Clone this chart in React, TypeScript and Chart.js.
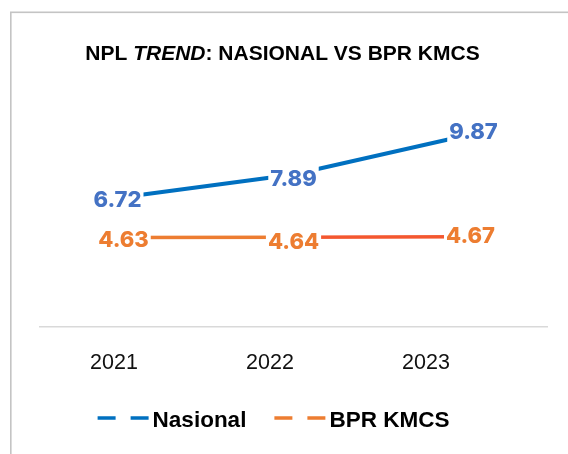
import React, { useEffect, useRef } from "react";
import { Chart, registerables } from "chart.js";

Chart.register(...registerables);

// ---- data ----
const categories = ["2021", "2022", "2023"];
const nasional = [6.72, 7.89, 9.87];
const bprKmcs = [4.63, 4.64, 4.67];
const seriesNames = ["Nasional", "BPR KMCS"];
const titleParts = [
  { text: "NPL ", italic: false },
  { text: "TREND", italic: true },
  { text: ": NASIONAL VS BPR KMCS", italic: false },
];
const yMin = 0;
const yMax = 12;

// ---- styles ----
const lineColors = ["#0070C0", "#ED7D31"];
const lastSegmentColors = ["#0070C0", "#F4572F"];
const labelColors = ["#4472C4", "#ED7D31"];
const labelDx = [
  [-7, 0, 11],
  [-1, 0, 8],
];
const labelDy = [
  [2, 3.5, -5],
  [1.5, 3.7, -1.7],
];
const tickShift = [-10.5, -23.5, -36.5];

const overlayPlugin = {
  id: "overlay",
  beforeDraw(chart: any) {
    const ctx = chart.ctx;
    ctx.save();
    ctx.strokeStyle = "#C4C4C4";
    ctx.lineWidth = 1.6;
    ctx.strokeRect(10.8, 12.3, 1200, 1200);
    ctx.restore();
  },
  afterDatasetsDraw(chart: any) {
    const ctx = chart.ctx;
    ctx.save();
    const fs = 22;
    ctx.font = `800 ${fs}px Inter`;
    ctx.textAlign = "center";
    ctx.textBaseline = "alphabetic";
    chart.data.datasets.forEach((ds: any, i: number) => {
      const meta = chart.getDatasetMeta(i);
      meta.data.forEach((el: any, j: number) => {
        const txt = Number(ds.data[j]).toFixed(2);
        const cx = el.x + labelDx[i][j];
        const cy = el.y + labelDy[i][j];
        const w = ctx.measureText(txt).width;
        const cap = fs * 0.727;
        ctx.fillStyle = "#ffffff";
        ctx.fillRect(cx - w / 2 - 2, cy - cap / 2 - 4, w + 4, cap + 8);
        ctx.fillStyle = labelColors[i];
        ctx.fillText(txt, cx, cy + cap / 2);
      });
    });
    ctx.restore();
  },
  afterDraw(chart: any) {
    const ctx = chart.ctx;
    ctx.save();
    // title
    const tfs = 21;
    const fonts = titleParts.map((p) =>
      p.italic ? `italic bold ${tfs}px "Liberation Sans"` : `bold ${tfs}px "Liberation Sans"`
    );
    let total = 0;
    const widths = titleParts.map((p, k) => {
      ctx.font = fonts[k];
      const w = ctx.measureText(p.text).width;
      total += w;
      return w;
    });
    let x = 282.5 - total / 2;
    ctx.fillStyle = "#000000";
    ctx.textAlign = "left";
    ctx.textBaseline = "alphabetic";
    titleParts.forEach((p, k) => {
      ctx.font = fonts[k];
      ctx.fillText(p.text, x, 60);
      x += widths[k];
    });

    // x tick labels
    const xs = chart.scales.x;
    ctx.font = `21.5px "Liberation Sans"`;
    ctx.textAlign = "center";
    ctx.fillStyle = "#111111";
    categories.forEach((c, k) => {
      ctx.fillText(c, xs.getPixelForTick(k) + tickShift[k], 369);
    });

    // legend
    const lfs = 22.5;
    ctx.font = `bold ${lfs}px "Liberation Sans"`;
    const markerW = 50;
    const gap = 5;
    const itemGap = 28;
    const textW = seriesNames.map((n) => ctx.measureText(n).width);
    const legendW =
      textW.reduce((a, b) => a + b, 0) + seriesNames.length * (markerW + gap) + itemGap * (seriesNames.length - 1);
    let lx = 273.5 - legendW / 2;
    seriesNames.forEach((n, k) => {
      ctx.save();
      ctx.strokeStyle = lineColors[k];
      ctx.lineWidth = 3.5;
      ctx.setLineDash([18, 15]);
      ctx.beginPath();
      ctx.moveTo(lx, 418);
      ctx.lineTo(lx + markerW + 1, 418);
      ctx.stroke();
      ctx.restore();
      ctx.fillStyle = "#000000";
      ctx.textAlign = "left";
      ctx.fillText(n, lx + markerW + gap, 427);
      lx += markerW + gap + textW[k] + itemGap;
    });
    ctx.restore();
  },
};

export default function App() {
  const ref = useRef<HTMLCanvasElement>(null);
  useEffect(() => {
    if (!ref.current) return;
    const chart = new Chart(ref.current, {
      type: "line",
      data: {
        labels: categories,
        datasets: [
          {
            label: seriesNames[0],
            data: nasional,
            borderColor: lineColors[0],
            borderWidth: 4,
            pointRadius: 0,
            tension: 0,
            segment: {
              borderColor: (c: any) => (c.p0DataIndex === 1 ? lastSegmentColors[0] : lineColors[0]),
            },
          },
          {
            label: seriesNames[1],
            data: bprKmcs,
            borderColor: lineColors[1],
            borderWidth: 3.5,
            pointRadius: 0,
            tension: 0,
            segment: {
              borderColor: (c: any) => (c.p0DataIndex === 1 ? lastSegmentColors[1] : lineColors[1]),
            },
          },
        ],
      },
      options: {
        responsive: false,
        animation: false,
        layout: { padding: { left: 40, right: 21, top: 95, bottom: 119 } },
        plugins: {
          legend: { display: false },
          title: { display: false },
          tooltip: { enabled: false },
        },
        scales: {
          x: {
            offset: true,
            display: true,
            ticks: { display: false },
            grid: { display: false },
            border: { display: true, color: "#D9D9D9", width: 1.5 },
          },
          y: {
            display: false,
            min: yMin,
            max: yMax,
          },
        },
      },
      plugins: [overlayPlugin],
    } as any);
    return () => chart.destroy();
  }, []);
  return (
    <div style={{ position: "fixed", left: 0, top: 0, width: 568, height: 454, background: "#ffffff" }}>
      <canvas ref={ref} width={568} height={454} style={{ display: "block", width: 568, height: 454 }} />
    </div>
  );
}
